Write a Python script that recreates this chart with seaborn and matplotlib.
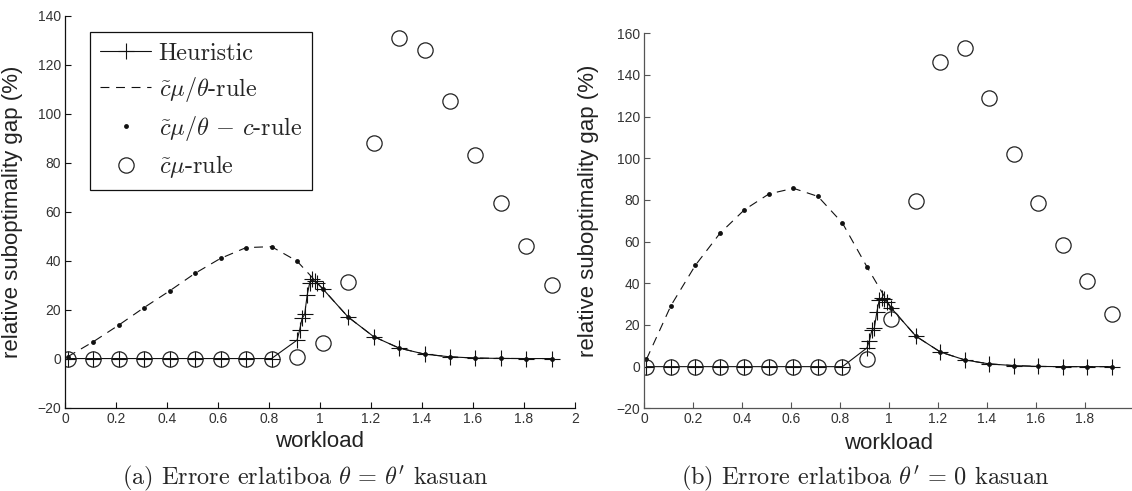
import numpy as np
import matplotlib
matplotlib.use("Agg")
import matplotlib.pyplot as plt
import seaborn as sns

# coarse workload grid used by all policies
workload = [0.01, 0.11, 0.21, 0.31, 0.41, 0.51, 0.61, 0.71, 0.81, 0.91,
            1.01, 1.11, 1.21, 1.31, 1.41, 1.51, 1.61, 1.71, 1.81, 1.91]
# heuristic has a finer grid around workload 1
heur_workload = [0.01, 0.11, 0.21, 0.31, 0.41, 0.51, 0.61, 0.71, 0.81,
                 0.91, 0.92, 0.93, 0.94, 0.95, 0.96, 0.97, 0.98, 0.99,
                 1.01, 1.11, 1.21, 1.31, 1.41, 1.51, 1.61, 1.71, 1.81, 1.91]

# (a) theta = theta'
heur_a = [0, 0, 0, 0, 0, 0, 0, 0, 0,
          7.5, 11.5, 16.5, 18.0, 26.0, 31.0, 32.4, 31.5, 30.7,
          28.6, 17.0, 9.0, 4.3, 1.8, 0.7, 0.2, 0.05, 0, 0]
rule_a = [0.7, 6.8, 13.6, 20.8, 27.6, 34.8, 40.9, 45.3, 45.7, 39.8,
          28.6, 17.0, 9.0, 4.3, 1.8, 0.7, 0.2, 0.05, 0, 0]
cmu_a = [0, 0, 0, 0, 0, 0, 0, 0, 0, 0.7,
         6.2, 31.3, 87.9, 130.9, 126.2, 105.1, 83.1, 63.5, 45.8, 30.0]

# (b) theta' = 0
heur_b = [0, 0, 0, 0, 0, 0, 0, 0, 0,
          9.0, 12.5, 17.5, 18.5, 26.0, 32.0, 33.0, 32.3, 31.0,
          28.0, 14.6, 7.0, 3.2, 1.3, 0.5, 0.1, 0, 0, 0]
rule_b = [3.5, 29.3, 48.7, 64.0, 75.3, 82.9, 85.6, 81.7, 68.9, 47.9,
          28.0, 14.6, 7.0, 3.2, 1.3, 0.5, 0.1, 0, 0, 0]
cmu_b = [0, 0, 0, 0, 0, 0, 0, 0, 0, 3.5,
         23.0, 79.6, 146.1, 153.1, 128.8, 102.0, 78.5, 58.4, 41.1, 25.5]

legend_labels = ["Heuristic",
                 r"$\tilde{c}\mu/\theta$-rule",
                 r"$\tilde{c}\mu/\theta\,-\,c$-rule",
                 r"$\tilde{c}\mu$-rule"]
captions = [r"(a) Errore erlatiboa $\theta\,=\,\theta'$ kasuan",
            r"(b) Errore erlatiboa $\theta'\,=\,0$ kasuan"]

sns.set_style("ticks")
plt.rcParams["font.family"] = ["Liberation Sans", "DejaVu Sans"]
plt.rcParams["mathtext.fontset"] = "cm"

fig = plt.figure(figsize=(11.32, 4.91), dpi=100)
ax_a = fig.add_axes([0.0574, 0.170, 0.4505, 0.798])
ax_b = fig.add_axes([0.5689, 0.1684, 0.4329, 0.7638])


def draw_panel(ax, heur, rule, cmu, ymax, spine_col):
    sns.lineplot(x=heur_workload, y=heur, ax=ax, color="#111111", lw=0.8,
                 marker="+", ms=12, mew=0.8, mec="#111111", legend=False)
    sns.lineplot(x=workload, y=rule, ax=ax, color="#111111", lw=0.8,
                 linestyle=(0, (8, 6)), legend=False)
    sns.lineplot(x=workload, y=rule, ax=ax, color="#111111", linestyle="none",
                 marker="o", ms=3.5, mew=0, legend=False)
    sns.lineplot(x=workload, y=cmu, ax=ax, color="#111111", linestyle="none",
                 marker="o", ms=11, mfc="none", mec="#222222", mew=0.9,
                 legend=False)

    ax.set_xlim(0, 2)
    ax.set_ylim(-20, ymax)
    ax.set_yticks(np.arange(-20, ymax + 1, 20))
    ax.tick_params(direction="in", length=4, width=0.8, labelsize=10,
                   labelcolor="#333333", color=spine_col, pad=3)
    for side in ["top", "right"]:
        ax.spines[side].set_visible(False)
    for side in ["left", "bottom"]:
        ax.spines[side].set_color(spine_col)
        ax.spines[side].set_linewidth(0.9)
    ax.set_xlabel("workload", fontsize=16, color="#222222")
    ax.set_ylabel("relative suboptimality gap (%)", fontsize=16, color="#222222")


draw_panel(ax_a, heur_a, rule_a, cmu_a, 140, "#111111")
draw_panel(ax_b, heur_b, rule_b, cmu_b, 160, "#555555")

ax_a.set_xticks(np.arange(0, 2.01, 0.2))
ax_a.set_xticklabels(["0", "0.2", "0.4", "0.6", "0.8", "1", "1.2", "1.4",
                      "1.6", "1.8", "2"])
# panel (b) is cropped at the right edge, so its last tick has no label
ax_b.set_xticks(np.arange(0, 2.01, 0.2))
ax_b.set_xticklabels(["0", "0.2", "0.4", "0.6", "0.8", "1", "1.2", "1.4",
                      "1.6", "1.8", ""])

ax_a.yaxis.set_label_coords(-0.082, 0.5)
ax_b.yaxis.set_label_coords(-0.092, 0.526)
ax_a.xaxis.set_label_coords(0.5, -0.06)
ax_b.xaxis.set_label_coords(0.5, -0.065)

handles = ax_a.get_lines()[:4]
leg = ax_a.legend(handles=handles, labels=legend_labels, loc="upper left",
                  bbox_to_anchor=(0.049, 0.958), numpoints=1, fancybox=False,
                  framealpha=1, edgecolor="#111111", borderpad=0.42,
                  labelspacing=0.42, handlelength=2.1, handletextpad=0.3,
                  borderaxespad=0, prop={"family": "cmr10", "size": 17.5})
leg.get_frame().set_linewidth(0.9)

fig.text(0.2694, 0.0265, captions[0], family="cmr10", fontsize=17.5,
         ha="center", va="center")
fig.text(0.764, 0.0265, captions[1], family="cmr10", fontsize=17.5,
         ha="center", va="center")

plt.savefig("out.png", dpi=100)
